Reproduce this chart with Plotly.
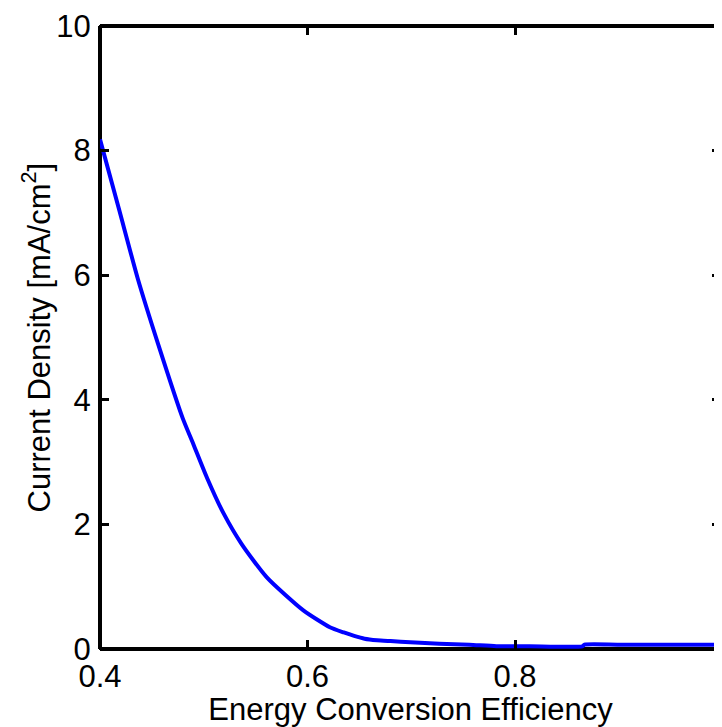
import plotly.graph_objects as go

# ---- data ----
efficiency = [0.400, 0.4188, 0.4365, 0.4565, 0.4796, 0.4902, 0.5031, 0.519,
              0.5367, 0.5608, 0.596, 0.6216, 0.635, 0.645, 0.655, 0.667,
              0.680, 0.699, 0.727, 0.756, 0.782, 0.814, 0.865, 0.867,
              0.900, 0.950, 1.000]
current_density = [8.18, 7.03, 5.94, 4.87, 3.71, 3.28, 2.75, 2.18,
                   1.68, 1.15, 0.62, 0.35, 0.265, 0.21, 0.165, 0.14,
                   0.127, 0.11, 0.085, 0.069, 0.045, 0.043, 0.043, 0.069,
                   0.069, 0.069, 0.069]
x_tick_vals = [0.4, 0.6, 0.8]
x_tick_text = ["0.4", "0.6", "0.8"]
y_tick_vals = [0, 2, 4, 6, 8, 10]
y_tick_text = ["0", "2", "4", "6", "8", "10"]
x_title = "Energy Conversion Efficiency"
y_title = "Current Density [mA/cm<sup>2</sup>]"

# ---- layout (page body has an 8px margin, so the figure is 8px smaller) ----
W, H = 714, 719
ML, MT, MB = 91.5, 18, 75
plot_w = W - ML
# in the reference the x = 1 edge lies just past the right border of the picture
x_max = 0.4 + 0.6 * plot_w / 624.0

font = dict(family="Liberation Sans, Arial, sans-serif", size=31, color="black")

fig = go.Figure(
    go.Scatter(x=efficiency, y=current_density, mode="lines",
               line=dict(color="#0000ff", width=4, shape="spline", smoothing=0.6),
               hoverinfo="skip")
)

common = dict(ticks="inside", ticklen=9, tickwidth=3, tickcolor="black",
              showline=True, linewidth=1, linecolor="black", mirror="ticks",
              showgrid=False, zeroline=False, tickfont=font, tickmode="array")

fig.update_layout(
    width=W, height=H,
    margin=dict(l=ML, r=0, t=MT, b=MB, pad=0),
    paper_bgcolor="white", plot_bgcolor="rgba(0,0,0,0)",
    showlegend=False,
    xaxis=dict(range=[0.4, x_max], tickvals=x_tick_vals, ticktext=x_tick_text,
               ticklabelstandoff=0,
               title=dict(text=x_title, font=font, standoff=11), **common),
    yaxis=dict(range=[0, 10], tickvals=y_tick_vals, ticktext=y_tick_text,
               ticklabelstandoff=2, **common),
    shapes=[
        dict(type="line", xref="paper", yref="paper", x0=0, x1=0, y0=0, y1=1,
             line=dict(color="black", width=4), layer="below"),
        dict(type="line", xref="paper", yref="paper", x0=0, x1=1, y0=0, y1=0,
             line=dict(color="black", width=4), layer="below"),
        dict(type="line", xref="paper", yref="paper", x0=0, x1=1, y0=1, y1=1,
             line=dict(color="black", width=4), layer="below"),
    ],
    annotations=[
        dict(x=1.0, xref="x", y=0, yref="paper", text="1", showarrow=False,
             xanchor="center", yanchor="top", yshift=-2, font=font),
        dict(x=0, xref="paper", y=0.5, yref="paper", text=y_title,
             textangle=-90, showarrow=False, xanchor="right", yanchor="middle",
             xshift=-42, font=font),
    ],
)

fig.write_html("out.html")
